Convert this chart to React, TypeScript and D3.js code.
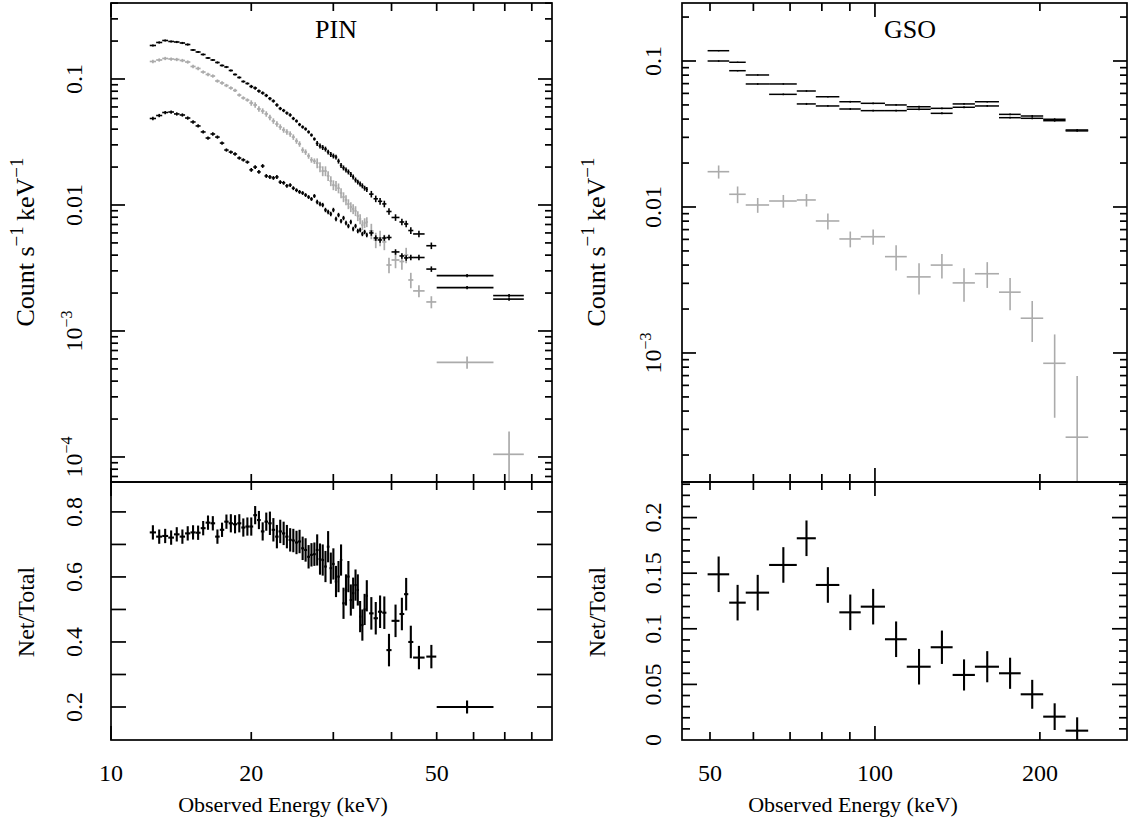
import React from 'react';
import * as d3 from 'd3';

// ---------------- DATA ----------------
// PIN: bin centres (keV) and half widths
const pinE = [12.30, 12.69, 13.07, 13.46, 13.84, 14.23, 14.61, 15.00, 15.38, 15.77,
  16.15, 16.54, 16.92, 17.31, 17.69, 18.08, 18.46, 18.85, 19.23, 19.62,
  20.00, 20.39, 20.77, 21.16, 21.54, 21.93, 22.31, 22.70, 23.08, 23.47,
  23.85, 24.24, 24.62, 25.01, 25.39, 25.78, 26.16, 26.55, 26.93, 27.32,
  27.70, 28.09, 28.47, 28.86, 29.24, 29.63, 30.01, 30.40, 30.78, 31.17,
  31.55, 31.94, 32.32, 32.71, 33.09, 33.48, 33.86, 34.25, 34.63, 35.02,
  35.40, 36.2, 37.0, 37.8, 38.6, 39.5, 40.8, 42.1, 43.0, 44.0,
  45.8, 48.7, 58.1, 71.5];
const pinHW = [0.19, 0.19, 0.19, 0.19, 0.19, 0.19, 0.19, 0.19, 0.19, 0.19,
  0.19, 0.19, 0.19, 0.19, 0.19, 0.19, 0.19, 0.19, 0.19, 0.19,
  0.19, 0.19, 0.19, 0.19, 0.19, 0.19, 0.19, 0.19, 0.19, 0.19,
  0.19, 0.19, 0.19, 0.19, 0.19, 0.19, 0.19, 0.19, 0.19, 0.19,
  0.19, 0.19, 0.19, 0.19, 0.19, 0.19, 0.19, 0.19, 0.19, 0.19,
  0.19, 0.19, 0.19, 0.19, 0.19, 0.19, 0.19, 0.19, 0.19, 0.19,
  0.19, 0.4, 0.4, 0.4, 0.4, 0.5, 0.8, 0.5, 0.45, 0.55,
  1.3, 1.2, 8.1, 5.4];
// total (upper black), background (lower black), net (grey) in counts/s/keV
const pinTotal = [0.1845, 0.1949, 0.2021, 0.1985, 0.1966, 0.1931, 0.1878, 0.1699, 0.1638, 0.1565,
  0.1468, 0.1415, 0.1352, 0.1280, 0.1245, 0.1168, 0.1086, 0.1028, 0.0955, 0.0921,
  0.0872, 0.0848, 0.0803, 0.0774, 0.0740, 0.0700, 0.0669, 0.0622, 0.0583, 0.0562,
  0.0537, 0.0518, 0.0486, 0.0464, 0.0435, 0.0416, 0.0401, 0.0380, 0.0359, 0.0334,
  0.0308, 0.0294, 0.0286, 0.0278, 0.0263, 0.0252, 0.0245, 0.0240, 0.0223, 0.0206,
  0.0197, 0.0190, 0.0183, 0.0175, 0.0167, 0.0158, 0.0152, 0.0147, 0.0142, 0.0136,
  0.0133, 0.0122, 0.0112, 0.0107, 0.0102, 0.00888, 0.00796, 0.00733, 0.00707, 0.00627,
  0.00589, 0.00475, 0.00275, 0.00191];
const pinTotalErrPct = [2, 2, 2, 2, 2, 2, 2, 2, 2, 2, 2, 2, 2, 2, 2, 2, 2, 2, 2, 2,
  3, 3, 3, 3, 3, 3, 3, 3, 3, 3, 3, 3, 3, 3, 3, 3, 3, 3, 3, 3,
  4.5, 4.5, 4.5, 4.5, 4.5, 4.5, 4.5, 4.5, 4.5, 4.5, 4.5, 4.5, 4.5, 4.5, 4.5, 4.5, 4.5, 4.5, 4.5, 4.5, 4.5,
  6, 6, 6, 6, 6, 6, 6, 6, 6, 6, 6, 3, 3];
const pinBkg = [0.0486, 0.0513, 0.0542, 0.0547, 0.0528, 0.0518, 0.0490, 0.0456, 0.0424, 0.0380,
  0.0340, 0.0366, 0.0346, 0.0310, 0.0273, 0.0263, 0.0254, 0.0236, 0.0228, 0.0219,
  0.0190, 0.0200, 0.0183, 0.0204, 0.0170, 0.0167, 0.0164, 0.0167, 0.0152, 0.0150,
  0.0142, 0.0144, 0.0136, 0.0131, 0.0127, 0.01245, 0.0120, 0.01157, 0.01116, 0.01179,
  0.01056, 0.01018, 0.0100, 0.00913, 0.00880, 0.00848, 0.00913, 0.00774, 0.00833, 0.00746,
  0.00788, 0.00720, 0.00681, 0.00733, 0.00645, 0.00681, 0.00622, 0.00633, 0.00589, 0.00611,
  0.00578, 0.00600, 0.00547, 0.00528, 0.00547, 0.00552, 0.00424, 0.00394, 0.00380, 0.00383,
  0.00383, 0.00310, 0.00221, 0.00179];
const pinBkgErrPct = [3, 3, 3, 3, 3, 3, 3, 3, 3, 3, 3, 3, 3, 3, 3, 3, 3, 3, 3, 3,
  3.5, 3.5, 3.5, 3.5, 3.5, 3.5, 3.5, 3.5, 3.5, 3.5, 3.5, 3.5, 3.5, 3.5, 3.5, 3.5, 3.5, 3.5, 3.5, 3.5,
  4, 4, 4, 4, 4, 4, 4, 4, 4, 4, 4, 4, 4, 4, 4, 4, 4, 4, 4, 4, 4,
  5, 5, 5, 5, 5, 5, 5, 5, 5, 5, 5, 3, 3];
const pinNet = [0.1377, 0.1415, 0.1455, 0.1441, 0.1428, 0.1402, 0.1364, 0.1257, 0.1212, 0.1136,
  0.1086, 0.1056, 0.0964, 0.0930, 0.0888, 0.0848, 0.0811, 0.0746, 0.0707, 0.0681,
  0.0645, 0.0622, 0.0578, 0.0557, 0.0528, 0.0495, 0.0464, 0.0439, 0.0416, 0.0394,
  0.0380, 0.0366, 0.0346, 0.0322, 0.0305, 0.0273, 0.0263, 0.0245, 0.0228, 0.0223,
  0.0215, 0.0200, 0.0186, 0.0186, 0.0170, 0.0155, 0.0144, 0.0142, 0.0136, 0.01245,
  0.01157, 0.01096, 0.01018, 0.00964, 0.00930, 0.00897, 0.00818, 0.00774, 0.00694, 0.00720,
  0.00733, 0.00622, 0.00528, 0.00547, 0.00509, 0.00334, 0.00366, 0.00356, 0.00401, 0.00254,
  0.00208, 0.00170, 0.000564, 0.000105];
const pinNetErrPct = [3, 3, 3, 3, 3, 3, 3, 3, 3, 3, 3, 3, 3, 3, 3, 3, 3, 3, 3, 3,
  5, 5, 5, 5, 5, 5, 5, 5, 5, 5, 5, 5, 5, 5, 5, 5, 5, 5, 5, 5,
  9, 9, 9, 9, 9, 9, 9, 9, 9, 9, 9, 9, 9, 9, 9, 9, 9, 9, 9, 9, 9,
  14, 14, 14, 14, 14, 14, 14, 14, 14, 11, 11, 11, 52];
// net / total
const pinRatio = [0.737, 0.724, 0.726, 0.721, 0.731, 0.724, 0.734, 0.737, 0.736, 0.750,
  0.767, 0.765, 0.724, 0.745, 0.770, 0.765, 0.762, 0.765, 0.752, 0.755,
  0.755, 0.790, 0.775, 0.740, 0.770, 0.765, 0.745, 0.724, 0.740, 0.734,
  0.724, 0.714, 0.712, 0.706, 0.709, 0.688, 0.683, 0.662, 0.668, 0.670,
  0.683, 0.655, 0.652, 0.632, 0.693, 0.627, 0.640, 0.586, 0.601, 0.652,
  0.519, 0.560, 0.601, 0.529, 0.550, 0.575, 0.560, 0.478, 0.452, 0.500,
  0.542, 0.488, 0.473, 0.493, 0.490, 0.375, 0.465, 0.486, 0.547, 0.400,
  0.352, 0.355, 0.200, 0.055];
const pinRatioErr = [0.022, 0.022, 0.022, 0.022, 0.022, 0.022, 0.022, 0.022, 0.022, 0.022,
  0.022, 0.022, 0.022, 0.022, 0.022, 0.028, 0.028, 0.028, 0.028, 0.028,
  0.028, 0.028, 0.028, 0.028, 0.028, 0.036, 0.036, 0.036, 0.036, 0.036,
  0.036, 0.036, 0.036, 0.036, 0.036, 0.036, 0.036, 0.036, 0.036, 0.036,
  0.048, 0.048, 0.048, 0.048, 0.048, 0.048, 0.048, 0.048, 0.048, 0.048,
  0.048, 0.048, 0.048, 0.048, 0.048, 0.048, 0.048, 0.048, 0.048, 0.048,
  0.048, 0.05, 0.05, 0.05, 0.05, 0.05, 0.05, 0.05, 0.05, 0.05,
  0.036, 0.036, 0.02, 0.03];

// GSO: bin edges (keV)
const gsoLo = [49.5, 54.2, 58.1, 64.1, 72.0, 78.0, 86.1, 94.2, 104.3, 114.3, 126.4, 138.6, 152.2, 168.4, 184.5, 202.8, 222.8];
const gsoHi = [54.2, 58.1, 64.1, 72.0, 78.0, 86.1, 94.2, 104.3, 114.3, 126.4, 138.6, 152.2, 168.4, 184.5, 202.8, 222.8, 245.0];
const gsoTotal = [0.1176, 0.0980, 0.0802, 0.0696, 0.0623, 0.0569, 0.0526, 0.0513, 0.0500, 0.0486, 0.0474, 0.0508, 0.0526, 0.0431, 0.0420, 0.0399, 0.0337];
const gsoBkg = [0.1000, 0.0858, 0.0696, 0.0591, 0.0508, 0.0492, 0.0469, 0.0457, 0.0457, 0.0467, 0.0438, 0.0482, 0.0492, 0.0409, 0.0405, 0.0390, 0.0332];
const gsoBlackErr = [0.0012, 0.0010, 0.0009, 0.0008, 0.0008, 0.0007, 0.0007, 0.0007, 0.0007, 0.0007, 0.0007, 0.0007, 0.0007, 0.0006, 0.0006, 0.0006, 0.0005];
const gsoNet = [0.01745, 0.01222, 0.01032, 0.01099, 0.01117, 0.00802, 0.00604, 0.00626, 0.00457, 0.00332, 0.00400, 0.00302, 0.00349, 0.00261, 0.00173, 0.000850, 0.000265];
const gsoNetErr = [0.0018, 0.0016, 0.0012, 0.0011, 0.0011, 0.0010, 0.00075, 0.00075, 0.0009, 0.0008, 0.00076, 0.00078, 0.0007, 0.00065, 0.00054, 0.00049, 0.00043];
const gsoRatio = [0.149, 0.1235, 0.1325, 0.1574, 0.1814, 0.1394, 0.1148, 0.1199, 0.0906, 0.0659, 0.0834, 0.0585, 0.0659, 0.060, 0.0411, 0.021, 0.0084];
const gsoRatioErr = [0.016, 0.016, 0.016, 0.016, 0.016, 0.016, 0.016, 0.016, 0.016, 0.016, 0.015, 0.014, 0.014, 0.014, 0.013, 0.012, 0.012];

// tick labels
const pinXLabelVals = [10, 20, 50];
const gsoXLabelVals = [50, 100, 200];
const pinTopYLabelVals = [0.1, 0.01, 0.001, 0.0001];
const gsoTopYLabelVals = [0.1, 0.01, 0.001];
const pinBotYLabelVals = [0.2, 0.4, 0.6, 0.8];
const gsoBotYLabelVals = [0, 0.05, 0.1, 0.15, 0.2];
const panelTitles = ['PIN', 'GSO'];
const xTitle = 'Observed Energy (keV)';
const ratioTitle = 'Net/Total';

// ---------------- LAYOUT ----------------
const FONT = '"Liberation Serif", "Times New Roman", Times, serif';
const GRAY = '#ababab';
const TOP = { y0: 3, y1: 482 };
const BOT = { y0: 482, y1: 740 };
const PIN = { x0: 111, x1: 552 };
const GSO = { x0: 682, x1: 1127 };
const FS = 24;

type Tick = { v: number; len: number };

function logTicks(dom: number[], maj: number, min: number): Tick[] {
  const out: Tick[] = [];
  const lo = Math.min(dom[0], dom[1]);
  const hi = Math.max(dom[0], dom[1]);
  for (let e = Math.floor(Math.log10(lo)); e <= Math.ceil(Math.log10(hi)); e++) {
    for (let k = 1; k <= 9; k++) {
      const v = k * Math.pow(10, e);
      if (v >= lo * 0.9999 && v <= hi * 1.0001) out.push({ v, len: k === 1 ? maj : min });
    }
  }
  return out;
}

function linTicks(a: number, b: number, step: number, majEvery: number, maj: number, min: number): Tick[] {
  const out: Tick[] = [];
  const n = Math.round((b - a) / step);
  for (let i = 0; i <= n; i++) {
    const v = +(a + i * step).toFixed(6);
    const isMaj = Math.abs(v / majEvery - Math.round(v / majEvery)) < 1e-6;
    out.push({ v, len: isMaj ? maj : min });
  }
  return out;
}

function fmtLog(v: number) {
  if (v >= 0.01) return { base: String(v), exp: '' };
  const e = Math.round(Math.log10(v));
  return { base: '10', exp: '\u2212' + String(-e) };
}

type Pt = { x: number; lo: number; hi: number; y: number; err: number };

function Crosses({ pts, xs, ys, color, sw, clip }: any) {
  const [r0] = ys.range();
  return (
    <g stroke={color} strokeWidth={sw} fill="none" clipPath={`url(#${clip})`}>
      {pts.map((p: Pt, i: number) => {
        const yc = ys(p.y);
        const lowV = p.y - p.err;
        const yl = lowV > 0 ? ys(lowV) : r0 + 100;
        const yh = ys(p.y + p.err);
        const xc = xs(p.x);
        return (
          <g key={i}>
            <line x1={xs(p.lo)} x2={xs(p.hi)} y1={yc} y2={yc} />
            <line x1={xc} x2={xc} y1={yl} y2={yh} />
          </g>
        );
      })}
    </g>
  );
}

function Frame({ box, xs, ys, xTicks, yTicks }: any) {
  const { x0, x1, y0, y1 } = box;
  return (
    <g stroke="#000" strokeWidth={1.7} fill="none">
      {xTicks.map((t: Tick, i: number) => {
        const x = xs(t.v);
        return (
          <g key={'x' + i}>
            <line x1={x} x2={x} y1={y1} y2={y1 - t.len} />
            <line x1={x} x2={x} y1={y0} y2={y0 + t.len} />
          </g>
        );
      })}
      {yTicks.map((t: Tick, i: number) => {
        const y = ys(t.v);
        return (
          <g key={'y' + i}>
            <line x1={x0} x2={x0 + t.len} y1={y} y2={y} />
            <line x1={x1} x2={x1 - t.len} y1={y} y2={y} />
          </g>
        );
      })}
      <rect x={x0} y={y0} width={x1 - x0} height={y1 - y0} />
    </g>
  );
}

function YLabel({ x, y, base, exp }: any) {
  return (
    <text transform={`translate(${x},${y}) rotate(-90)`} textAnchor="middle" fontSize={FS} fontFamily={FONT} fill="#000">
      <tspan>{base}</tspan>
      {exp ? <tspan dy={-10} fontSize={16}>{exp}</tspan> : null}
    </text>
  );
}

export default function App() {
  const pinX = d3.scaleLog().domain([10, 88.4]).range([PIN.x0, PIN.x1]);
  const gsoX = d3.scaleLog().domain([44.45, 288.4]).range([GSO.x0, GSO.x1]);
  const pinYT = d3.scaleLog().domain([6.33e-5, 0.401]).range([TOP.y1, TOP.y0]);
  const gsoYT = d3.scaleLog().domain([1.307e-4, 0.2496]).range([TOP.y1, TOP.y0]);
  const pinYB = d3.scaleLinear().domain([0.0985, 0.892]).range([BOT.y1, BOT.y0]);
  const gsoYB = d3.scaleLinear().domain([0, 0.232]).range([BOT.y1, BOT.y0]);

  const pinPts = (vals: number[], errs: number[], rel: boolean): Pt[] =>
    pinE.map((e, i) => ({ x: e, lo: e - pinHW[i], hi: e + pinHW[i], y: vals[i], err: rel ? vals[i] * errs[i] / 100 : errs[i] }));
  const gsoPts = (vals: number[], errs: number[]): Pt[] =>
    gsoLo.map((lo, i) => ({ x: (lo + gsoHi[i]) / 2, lo, hi: gsoHi[i], y: vals[i], err: errs[i] }));

  const pinXT = logTicks(pinX.domain(), 14, 8);
  const gsoXT = logTicks(gsoX.domain(), 14, 8);
  const pinYTT = logTicks(pinYT.domain(), 14, 7);
  const gsoYTT = logTicks(gsoYT.domain(), 14, 7);
  const pinYBT = linTicks(0.2, 0.8, 0.1, 0.1, 15, 15);
  const gsoYBT = linTicks(0.01, 0.23, 0.01, 0.05, 15, 8);

  const boxes = {
    pinTop: { ...PIN, ...TOP }, pinBot: { ...PIN, ...BOT },
    gsoTop: { ...GSO, ...TOP }, gsoBot: { ...GSO, ...BOT },
  };

  const txt = { fontFamily: FONT, fill: '#000' } as any;

  return (
    <svg width={1132} height={831} style={{ position: 'absolute', left: 0, top: 0, background: '#fff' }}>
      <defs>
        {Object.entries(boxes).map(([k, b]: any) => (
          <clipPath id={'clip-' + k} key={k}>
            <rect x={b.x0} y={b.y0} width={b.x1 - b.x0} height={b.y1 - b.y0} />
          </clipPath>
        ))}
      </defs>
      <rect x={0} y={0} width={1132} height={831} fill="#fff" />

      {/* PIN spectra */}
      <Crosses pts={pinPts(pinNet, pinNetErrPct, true)} xs={pinX} ys={pinYT} color={GRAY} sw={1.7} clip="clip-pinTop" />
      <Crosses pts={pinPts(pinBkg, pinBkgErrPct, true)} xs={pinX} ys={pinYT} color="#000" sw={1.6} clip="clip-pinTop" />
      <Crosses pts={pinPts(pinTotal, pinTotalErrPct, true)} xs={pinX} ys={pinYT} color="#000" sw={1.6} clip="clip-pinTop" />
      <Crosses pts={pinPts(pinRatio, pinRatioErr, false)} xs={pinX} ys={pinYB} color="#000" sw={2.1} clip="clip-pinBot" />

      {/* GSO spectra */}
      <Crosses pts={gsoPts(gsoNet, gsoNetErr)} xs={gsoX} ys={gsoYT} color={GRAY} sw={1.6} clip="clip-gsoTop" />
      <Crosses pts={gsoPts(gsoBkg, gsoBlackErr)} xs={gsoX} ys={gsoYT} color="#000" sw={1.5} clip="clip-gsoTop" />
      <Crosses pts={gsoPts(gsoTotal, gsoBlackErr)} xs={gsoX} ys={gsoYT} color="#000" sw={1.5} clip="clip-gsoTop" />
      <Crosses pts={gsoPts(gsoRatio, gsoRatioErr)} xs={gsoX} ys={gsoYB} color="#000" sw={2.1} clip="clip-gsoBot" />

      <Frame box={boxes.pinTop} xs={pinX} ys={pinYT} xTicks={pinXT} yTicks={pinYTT} />
      <Frame box={boxes.pinBot} xs={pinX} ys={pinYB} xTicks={pinXT} yTicks={pinYBT} />
      <Frame box={boxes.gsoTop} xs={gsoX} ys={gsoYT} xTicks={gsoXT} yTicks={gsoYTT} />
      <Frame box={boxes.gsoBot} xs={gsoX} ys={gsoYB} xTicks={gsoXT} yTicks={gsoYBT} />

      {/* panel titles */}
      <text x={336} y={38} textAnchor="middle" fontSize={26} {...txt}>{panelTitles[0]}</text>
      <text x={910} y={38} textAnchor="middle" fontSize={26} {...txt}>{panelTitles[1]}</text>

      {/* x tick labels */}
      {pinXLabelVals.map((v) => (
        <text key={'px' + v} x={pinX(v)} y={781} textAnchor="middle" fontSize={FS} {...txt}>{v}</text>
      ))}
      {gsoXLabelVals.map((v) => (
        <text key={'gx' + v} x={gsoX(v)} y={781} textAnchor="middle" fontSize={FS} {...txt}>{v}</text>
      ))}

      {/* y tick labels */}
      {pinTopYLabelVals.map((v) => {
        const f = fmtLog(v);
        return <YLabel key={'pyt' + v} x={82} y={pinYT(v)} base={f.base} exp={f.exp} />;
      })}
      {gsoTopYLabelVals.map((v) => {
        const f = fmtLog(v);
        return <YLabel key={'gyt' + v} x={661} y={gsoYT(v)} base={f.base} exp={f.exp} />;
      })}
      {pinBotYLabelVals.map((v) => (
        <YLabel key={'pyb' + v} x={82} y={pinYB(v)} base={String(v)} exp="" />
      ))}
      {gsoBotYLabelVals.map((v) => (
        <YLabel key={'gyb' + v} x={661} y={gsoYB(v)} base={String(v)} exp="" />
      ))}

      {/* axis titles */}
      <text x={283} y={812} textAnchor="middle" fontSize={22} {...txt}>{xTitle}</text>
      <text x={853} y={812} textAnchor="middle" fontSize={22} {...txt}>{xTitle}</text>
      {[34, 605].map((x) => (
        <g key={'yt' + x}>
          <text transform={`translate(${x},242) rotate(-90)`} textAnchor="middle" fontSize={26} {...txt}>
            <tspan>Count s</tspan>
            <tspan dy={-11} fontSize={19}>{'\u22121'}</tspan>
            <tspan dy={11} fontSize={26}>{'\u2009keV'}</tspan>
            <tspan dy={-11} fontSize={19}>{'\u22121'}</tspan>
          </text>
          <text transform={`translate(${x},612) rotate(-90)`} textAnchor="middle" fontSize={24} {...txt}>{ratioTitle}</text>
        </g>
      ))}
    </svg>
  );
}
